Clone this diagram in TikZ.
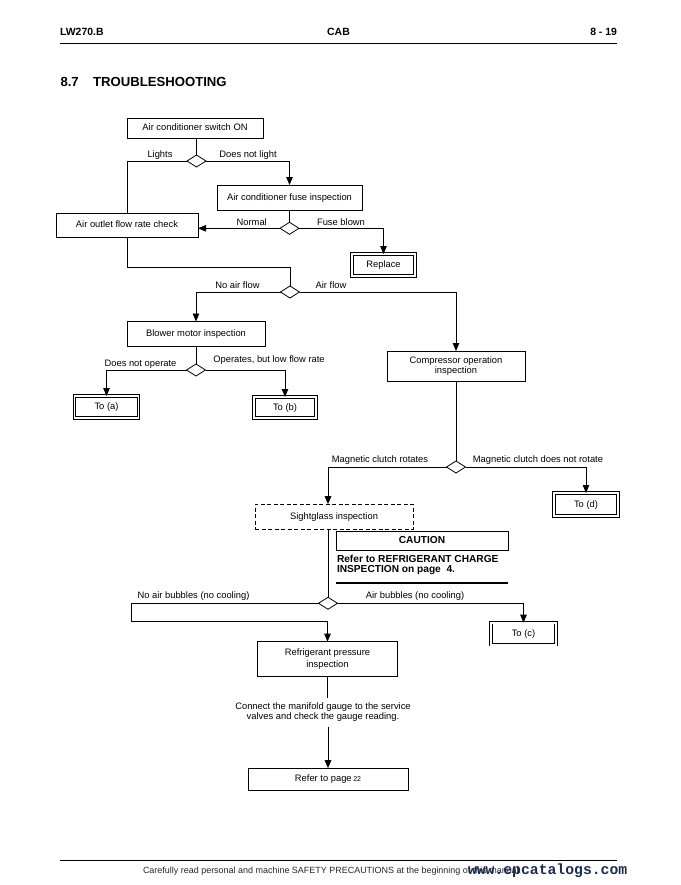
\documentclass[tikz,border=0pt]{standalone}
\usepackage{fontspec}
\setmainfont{Liberation Sans}
\newfontfamily\wmfont{Liberation Mono}
\usetikzlibrary{shapes.geometric,arrows.meta,calc}
\definecolor{wmblue}{RGB}{28,42,78}
\begin{document}
\begin{tikzpicture}[x=1bp,y=-1bp,
  every node/.style={inner sep=0pt, outer sep=0pt},
  txt/.style={font=\fontsize{9.4}{11}\selectfont},
  box/.style={draw, line width=0.9bp, txt, align=center},
  onel/.style={text height=6.9bp, text depth=1.6bp},
  dbox/.style={draw, double, double distance=1.6bp, line width=0.8bp, txt, align=center, onel},
  dia/.style={draw, diamond, line width=0.8bp, minimum width=19bp, minimum height=12bp},
  conn/.style={line width=0.8bp},
  arr/.style={conn, -{Triangle[width=6.5bp,length=8bp]}},
  lbl/.style={txt},
  hdr/.style={font=\fontsize{10.5}{12}\selectfont\bfseries},
]
\useasboundingbox (0,0) rectangle (681,885);

% header
\node[hdr, anchor=base west] (h1) at (60,35) {LW270.B};
\node[hdr, anchor=base] (h2) at (338.5,35) {CAB};
\node[hdr, anchor=base east] (h3) at (617,35) {8 - 19};
\draw[line width=1bp] (60,43.5) -- (617,43.5);
\node[font=\fontsize{13.2}{15}\selectfont\bfseries, anchor=base west] (t1) at (60.5,86.5) {8.7};
\node[font=\fontsize{13.2}{15}\selectfont\bfseries, anchor=base west] (t2) at (93,86.5) {TROUBLESHOOTING};

% boxes
\node[box, onel, minimum width=136bp, minimum height=20bp] (sw) at (195,128) {Air conditioner switch ON};
\node[dia] (d1) at (196.5,161) {};
\node[box, onel, minimum width=145bp, minimum height=25bp] (fuse) at (289.5,197.5) {Air conditioner fuse inspection};
\node[dia] (d2) at (289.5,228.3) {};
\node[box, onel, minimum width=142bp, minimum height=24bp] (outlet) at (127,225) {Air outlet flow rate check};
\node[dbox, minimum width=63bp, minimum height=22bp] (replace) at (383.5,265) {Replace};
\node[dia] (d3) at (290,292) {};
\node[box, onel, minimum width=138bp, minimum height=25bp] (blower) at (196,334) {Blower motor inspection};
\node[box, minimum width=138bp, minimum height=30bp, font=\fontsize{9.4}{9.6}\selectfont] (comp) at (456,366) {Compressor operation\\inspection};
\node[dia] (d4) at (196,370) {};
\node[dbox, minimum width=64bp, minimum height=22bp] (toa) at (106.5,407) {To (a)};
\node[dbox, minimum width=62bp, minimum height=21bp] (tob) at (285,407.5) {To (b)};
\node[dia] (d5) at (456,467) {};
\node[dbox, minimum width=64bp, minimum height=23bp] (tod) at (586,504.5) {To (d)};
\node[box, onel, dashed, dash pattern=on 4bp off 2.5bp, minimum width=158bp, minimum height=25bp] (sg) at (334,516.7) {Sightglass inspection};
\node[box, onel, minimum width=172bp, minimum height=18.5bp, font=\fontsize{10.2}{12}\selectfont\bfseries] (caution) at (422,541) {CAUTION};
\node[anchor=north west, align=left, font=\fontsize{10.2}{10.3}\selectfont\bfseries] (ctext) at (337,555) {Refer to REFRIGERANT CHARGE\\INSPECTION on page~~4.};
\draw[line width=1.6bp] (caution.south west |- 0,582.7) coordinate (u1) -- (u1 -| caution.south east);
\node[dia] (d6) at (328,603.3) {};
\node[dbox, minimum width=65bp, minimum height=22bp] (toc) at (523.5,633.7) {To (c)};
\node[box, minimum width=140bp, minimum height=35bp, font=\fontsize{9.4}{12.3}\selectfont] (refr) at (327.5,659.2) {Refrigerant pressure\\inspection};
\node[txt, align=center, font=\fontsize{9.4}{10}\selectfont, inner ysep=5bp] (note) at (323,712.5) {Connect the manifold gauge to the service\\valves and check the gauge reading.};
\node[box, onel, minimum width=160bp, minimum height=22bp] (refer) at (328,779.2) {Refer to page\,{\fontsize{7}{8}\selectfont 22}};

% labels
\node[lbl] (l1) at (160,155.5) {Lights};
\node[lbl] (l2) at (248,155.5) {Does not light};
\node[lbl] (l3) at (251.7,222) {Normal};
\node[lbl] (l4) at (341,222) {Fuse blown};
\node[lbl] (l5) at (237.5,285.5) {No air flow};
\node[lbl] (l6) at (331,285.5) {Air flow};
\node[lbl] (l7) at (140.5,364.5) {Does not operate};
\node[lbl] (l8) at (269,360) {Operates, but low flow rate};
\node[lbl] (l9) at (380,460.5) {Magnetic clutch rotates};
\node[lbl] (l10) at (538,460.5) {Magnetic clutch does not rotate};
\node[lbl] (l11) at (193.5,596.5) {No air bubbles (no cooling)};
\node[lbl] (l12) at (415,596) {Air bubbles (no cooling)};

% connectors
\coordinate (c1) at (127,267.3);
\coordinate (c2) at (131,621.7);
\draw[conn] (sw.south -| d1.north) -- (d1.north);
\draw[conn] (d1.west) -| (outlet.north);
\draw[arr] (d1.east) -| (fuse.north);
\draw[conn] (fuse.south) -- (d2.north);
\draw[arr] (d2.west) -- (d2.west -| outlet.east);
\draw[arr] (d2.east) -| (replace.north);
\draw[conn] (outlet.south) -- (c1) -| (d3.north);
\draw[arr] (d3.west) -| (blower.north);
\draw[arr] (d3.east) -| (comp.north);
\draw[conn] (blower.south) -- (d4.north);
\draw[arr] (d4.west) -| (toa.north);
\draw[arr] (d4.east) -| (tob.north);
\draw[conn] (comp.south) -- (d5.north);
\draw[arr] (d5.west) -| (sg.north -| d6.north);
\draw[arr] (d5.east) -| (tod.north);
\draw[conn] (sg.south -| d6.north) -- (d6.north);
\draw[arr] (d6.east) -| (toc.north);
\draw[arr] (d6.west) -| (c2) -| (refr.north);
\draw[conn] (refr.south) -- (note.north -| refr.south);
\draw[arr] (note.south -| refer.north) -- (refer.north);

% footer
\draw[line width=0.9bp] (60,860) -- (617,860);
\node[anchor=base west, font=\fontsize{9}{11}\selectfont, text=black!85] (f1) at (143,873) {Carefully read personal and machine SAFETY PRECAUTIONS at the beginning of this manual.};
\node[anchor=base west, font=\fontsize{14.8}{16}\wmfont\bfseries, text=wmblue] (wm) at (468,874) {www.epcatalogs.com};
\end{tikzpicture}
\end{document}
